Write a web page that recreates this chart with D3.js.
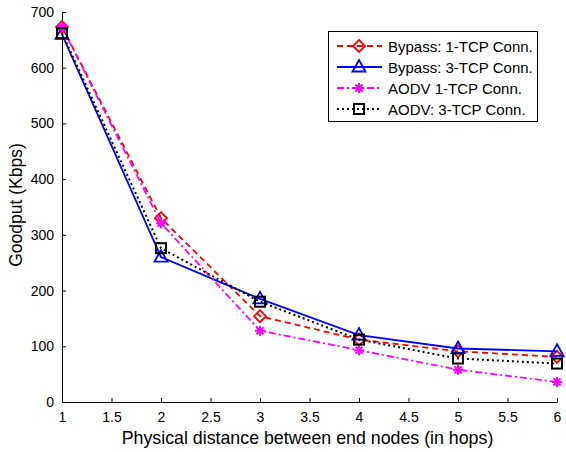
<!DOCTYPE html>
<html>
<head>
<meta charset="utf-8">
<script src="https://cdn.jsdelivr.net/npm/d3@7"></script>
<style>
  html, body { margin: 0; padding: 0; background: #fff; }
  svg { display: block; font-family: "Liberation Sans", Arial, sans-serif; }
</style>
</head>
<body>
<svg id="chart" width="566" height="452"></svg>
<script>
// Hop counts along the x axis
const hops = [1, 2, 3, 4, 5, 6];

// Goodput (Kbps) for each configuration
const bypass1 = [673, 330, 154, 112, 91, 81];
const bypass3 = [660, 260, 185, 120, 96, 91];
const aodv1   = [673, 321, 128, 93, 58, 36];
const aodv3   = [662, 276, 180, 112, 78, 69];

// Tick values
const xTicks = [1, 1.5, 2, 2.5, 3, 3.5, 4, 4.5, 5, 5.5, 6];
const yTicks = [0, 100, 200, 300, 400, 500, 600, 700];

const seriesNames = ["Bypass: 1-TCP Conn.", "Bypass: 3-TCP Conn.", "AODV 1-TCP Conn.", "AODV: 3-TCP Conn."];

const series = [
  { name: seriesNames[0], values: bypass1, color: "#ff0000", dash: "6,4", marker: "diamond", width: 1.8 },
  { name: seriesNames[1], values: bypass3, color: "#0000ff", dash: null, marker: "triangle", width: 1.8 },
  { name: seriesNames[2], values: aodv1, color: "#ff00ff", dash: "7,3,2,3", marker: "star", width: 1.8 },
  { name: seriesNames[3], values: aodv3, color: "#000000", dash: "2,3", marker: "square", width: 2 }
];

const svg = d3.select("#chart");
const plotLeft = 62, plotRight = 557, plotTop = 12, plotBottom = 402;

const x = d3.scaleLinear().domain([1, 6]).range([plotLeft, plotRight]);
const y = d3.scaleLinear().domain([0, 700]).range([plotBottom, plotTop]);

// Axes with inward ticks
const xAxis = d3.axisBottom(x).tickValues(xTicks).tickSizeInner(-4).tickSizeOuter(0).tickPadding(10)
  .tickFormat(d3.format("~g"));
const yAxis = d3.axisLeft(y).tickValues(yTicks).tickSizeInner(-4).tickSizeOuter(0).tickPadding(8);

const gx = svg.append("g").attr("transform", `translate(0,${plotBottom})`).call(xAxis);
const gy = svg.append("g").attr("transform", `translate(${plotLeft},0)`).call(yAxis);
[gx, gy].forEach(g => {
  g.select(".domain").attr("stroke", "#000").attr("stroke-width", 1);
  g.selectAll(".tick line").attr("stroke", "#000");
  g.selectAll(".tick text").attr("fill", "#000").style("font-size", "14px");
});

// Axis titles
svg.append("text")
  .attr("x", (plotLeft + plotRight) / 2 - 2).attr("y", 444)
  .attr("text-anchor", "middle")
  .style("font-size", "17.8px")
  .text("Physical distance between end nodes (in hops)");
svg.append("text")
  .attr("transform", `translate(22,${(plotTop + plotBottom) / 2 - 2}) rotate(-90)`)
  .attr("text-anchor", "middle")
  .style("font-size", "17.5px")
  .text("Goodput (Kbps)");

// Marker drawing
function drawMarker(g, type, color) {
  if (type === "diamond") {
    g.append("path").attr("d", "M0,-6L6,0L0,6L-6,0Z")
      .attr("fill", "none").attr("stroke", color).attr("stroke-width", 1.8);
  } else if (type === "triangle") {
    g.append("path").attr("d", "M0,-7L6.5,4.5L-6.5,4.5Z")
      .attr("fill", "none").attr("stroke", color).attr("stroke-width", 1.8);
  } else if (type === "square") {
    g.append("rect").attr("x", -5).attr("y", -5).attr("width", 10).attr("height", 10)
      .attr("fill", "none").attr("stroke", color).attr("stroke-width", 2);
  } else if (type === "star") {
    const r = 5;
    const p = [];
    for (let i = 0; i < 4; i++) {
      const a = i * Math.PI / 4;
      p.push(`M${-r * Math.cos(a)},${-r * Math.sin(a)}L${r * Math.cos(a)},${r * Math.sin(a)}`);
    }
    g.append("path").attr("d", p.join(""))
      .attr("fill", "none").attr("stroke", color).attr("stroke-width", 2);
    g.append("circle").attr("r", 2.5).attr("fill", color);
  }
}

const line = d3.line().x((d, i) => x(hops[i])).y(d => y(d));

const plot = svg.append("g");
series.forEach(s => {
  plot.append("path")
    .datum(s.values)
    .attr("d", line)
    .attr("fill", "none")
    .attr("stroke", s.color)
    .attr("stroke-width", s.width)
    .attr("stroke-dasharray", s.dash);
  s.values.forEach((v, i) => {
    const g = plot.append("g").attr("transform", `translate(${x(hops[i])},${y(v)})`);
    drawMarker(g, s.marker, s.color);
  });
});

// Legend
const lg = svg.append("g");
lg.append("rect").attr("x", 328.5).attr("y", 31.5).attr("width", 209).attr("height", 90)
  .attr("fill", "#fff").attr("stroke", "#000").attr("stroke-width", 1);
series.forEach((s, i) => {
  const cy = 46 + i * 21;
  lg.append("line").attr("x1", 337).attr("x2", 382).attr("y1", cy).attr("y2", cy)
    .attr("stroke", s.color).attr("stroke-width", s.width).attr("stroke-dasharray", s.dash);
  const g = lg.append("g").attr("transform", `translate(359,${cy})`);
  drawMarker(g, s.marker, s.color);
  lg.append("text").attr("x", 388).attr("y", cy + 5.5)
    .style("font-size", "15px").attr("fill", "#000").text(s.name);
});
</script>
</body>
</html>
